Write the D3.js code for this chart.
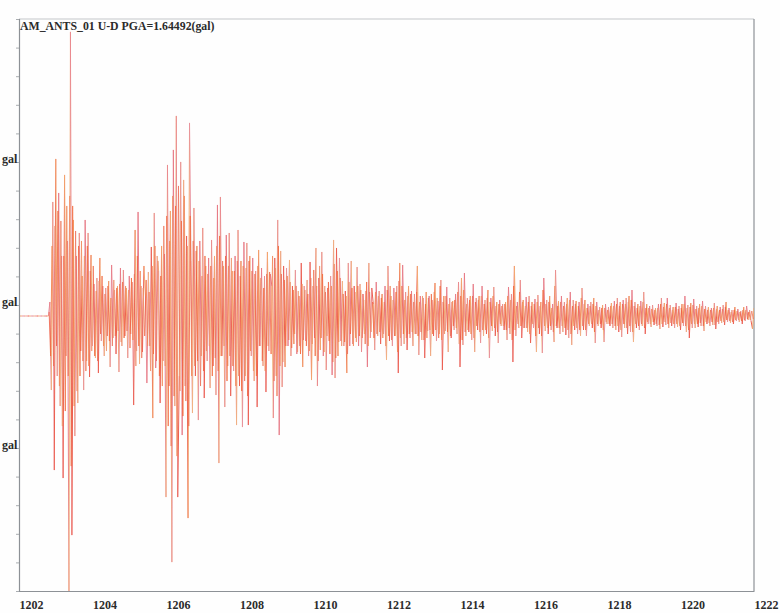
<!DOCTYPE html>
<html>
<head>
<meta charset="utf-8">
<script src="https://cdn.jsdelivr.net/npm/d3@7/dist/d3.min.js"></script>
<style>
html,body{margin:0;padding:0;background:#fefefe;}
svg{display:block;}
text{font-family:"Liberation Serif","Times New Roman",serif;font-weight:bold;fill:#2b2b2b;}
</style>
</head>
<body>
<svg id="chart" width="780" height="613"></svg>
<script>
const chartTitle = "AM_ANTS_01 U-D PGA=1.64492(gal)";
const xTickValues = [1202,1204,1206,1208,1210,1212,1214,1216,1218,1220,1222];
const yTickSteps = d3.range(-10, 11);
const yLabelSteps = [-5, 0, 5];
const yUnit = "gal";
const startTime = 1202;
const sampleStep = 0.04;
const coreStart = 1202.82;
const pga = 1.64492;
const pgaCounts = 275;
const baselineGal = -0.0658;
const yLimit = 1.71;

const quietCounts = [0,0,0,0,0,0,0,0,0,0,0,0,0,0,0,0,0,0,0,0];
const onsetCounts = [0,14,-74,114,-154,157,-60,123,-90,60,-162,141,-40,75,-275,284,-219,96,-120,60,-87,83,-35,40,-74];
const counts1204 = [96,-45,83,-61,61,-30,32,-42,38,-57,58,-25,30,-40,28,-20,35,-51,51,-22,26,-38,30,-56,48];
const counts1205 = [-30,46,-20,28,-42,40,-18,34,-89,86,-35,104,-48,30,-36,50,20,-67,44,-30,69,-102,103,-52,60];
const counts1206 = [45,-87,70,-45,62,-181,151,-70,105,-246,166,-90,200,-181,-60,154,-119,136,-70,80,-202,193,55,-97,108];
const counts1207 = [-60,70,-104,75,-40,88,-82,50,-45,58,-72,76,-50,60,-79,111,-147,119,-40,50,-91,81,-50,83,-80];
const counts1208 = [45,-55,60,-109,86,-70,55,-111,74,-60,73,-109,60,-40,58,-65,45,-91,66,-30,48,-50,40,-76,64];
const counts1209 = [-35,42,30,-102,58,-60,96,-119,65,-71,50,-51,48,-30,56,-40,30,-28,46,-38,25,-30,53,-51,30];
const counts1210 = [-25,36,-40,54,-64,30,-22,68,-70,38,-34,64,-40,30,-54,28,-25,40,-59,76,-62,68,-40,58,-25];
const counts1211 = [35,-30,25,-57,53,-30,55,-28,30,-22,49,-30,32,-36,22,-18,25,-51,53,-22,28,12,-34,34,-20];
const counts1212 = [25,-28,22,-18,30,-44,50,-25,20,-30,28,-20,30,-57,53,-30,51,-28,24,-34,30,-22,25,-30,22];
const counts1213 = [-18,50,-39,20,-24,18,-42,24,-15,20,-40,16,-20,33,-25,15,-18,36,-54,20,-15,29,-36,18,-22];
const counts1214 = [15,-14,22,-18,34,-51,38,-29,43,-20,18,-16,20,-24,32,-36,18,-14,20,-27,30,-20,16,-18,26];
const counts1215 = [-42,18,-15,29,-20,14,-27,16,-10,12,-14,14,-24,29,-18,22,-46,50,-20,14,-12,36,-22,16,-12];
const counts1216 = [19,-16,20,-27,14,-12,17,-36,21,-18,14,-37,38,-15,16,-18,20,-14,12,-26,46,-12,15,-18,20];
const counts1217 = [-16,14,-19,18,-22,24,-29,16,-14,15,-18,14,-20,28,-14,16,-20,12,-10,14,-12,18,-27,14,-10];
const counts1218 = [9,-12,11,-26,12,-8,9,-10,13,-12,15,-14,18,-16,14,-21,16,-12,18,-18,20,-16,26,-26,14];
const counts1219 = [-12,12,-14,15,-10,24,-18,12,-8,10,-11,11,-9,8,-10,12,-13,18,-11,13,-9,18,-12,11,-10];
const counts1220 = [9,-12,13,-11,10,-14,12,-10,20,-16,11,-22,13,-12,17,-12,10,-11,12,-10,15,-15,10,-8,9];
const counts1221 = [-10,8,-9,13,-13,10,-8,9,-7,11,-9,14,-6,8,-7,6,-8,9,-5,7,-6,5,-8,9,-5,10,-4,6,-5,-13,8];

const core1203 = [4,-40,70,-50,90,-30,105,-70,95,-110,60,-95,110,-60,120,-150,110,-90,85,-75,70,-60,75,-45,60];
const core1204 = [-55,70,-50,45,-35,50,-40,25,-45,35,-18,40,-30,22,-35,30,-25,18,-30,36,-20,28,-15,32,-26];
const core1205 = [34,-22,30,-15,26,-32,38,-24,42,-50,60,-30,45,-42,28,-20,36,-30,24,-55,50,-38,70,-45,55];
const core1206 = [-60,40,-70,90,-50,100,-110,75,-130,120,-80,110,-140,130,-75,95,-100,120,-85,70,-110,100,-60,75,-50];
const core1207 = [65,-45,55,-70,40,-55,60,-35,42,-30,50,-60,38,-42,70,-55,80,-40,55,-30,60,-65,50,-40,58];
const core1208 = [-50,45,-70,55,-60,40,-75,50,-65,48,-80,55,-35,45,-55,42,-60,50,-30,38,-45,28,-55,42,-30];
const core1209 = [44,-38,60,-65,48,-80,70,-50,42,-46,36,-30,40,-24,34,-32,26,-18,30,-36,20,-38,32,-24,26];
const core1210 = [-30,22,-35,38,-28,46,-40,30,-45,50,-22,42,-36,24,-20,34,-38,30,-46,52,-42,45,-26,38,-30];
const core1211 = [22,-26,20,-38,34,-18,28,-30,24,-26,30,-20,26,-22,16,-28,34,-30,24,-16,14,-22,24,-18,20];
const core1212 = [-16,18,-22,14,-30,26,-20,30,-24,16,-20,24,-36,35,-22,30,-18,16,-22,20,-18,22,-16,14,-18];
const core1213 = [24,-20,14,-16,20,-24,12,-22,18,-14,22,-18,24,-14,18,-22,30,-24,14,-18,20,-16,12,-20,14];
const core1214 = [-10,16,-12,24,-28,20,-24,26,-16,12,-14,16,-18,20,-22,14,-10,16,-16,20,-14,12,-14,18,-22];
const core1215 = [14,-10,20,-12,10,-16,12,-8,10,-10,12,-14,20,-12,16,-24,30,-14,10,-8,24,-10,14,-12,10];
const core1216 = [-12,14,-18,10,-8,12,-20,14,-12,10,-20,26,-10,12,-12,14,-10,8,-16,30,-10,10,-12,14,-10];
const core1217 = [10,-12,12,-14,16,-18,10,-10,12,-12,10,-14,18,-10,12,-14,8,-8,10,-8,12,-16,10,-8,6];
const core1218 = [-8,8,-14,8,-6,6,-8,10,-8,10,-10,12,-10,10,-14,12,-8,12,-12,14,-10,16,-16,10,-8];
const core1219 = [8,-10,10,-8,14,-12,8,-6,8,-8,7,-6,6,-8,8,-9,12,-8,9,-6,12,-8,8,-7,6];
const core1220 = [-8,9,-8,7,-10,8,-7,12,-10,8,-14,9,-8,11,-8,7,-8,8,-7,10,-10,7,-6,6,-7];
const core1221 = [6,-6,8,-9,7,-6,6,-5,7,-6,9,-4,6,-5,4,-6,6,-4,5,-4,4,-5,6,-4,6,-3,4,-4,5,-3];

const peakColors = ["#ec5f50","#f3a870","#e8939f","#e87b86","#f1b484","#ea8a90"];
const coreColors = ["#ef5a3c","#f3733f","#f19062","#ea6a5c","#f0a070"];

const margin = {left:19, right:26, top:19, bottom:22};
const width = 780, height = 613;

const counts = [].concat(quietCounts,onsetCounts,counts1204,counts1205,counts1206,counts1207,counts1208,counts1209,counts1210,counts1211,counts1212,counts1213,counts1214,counts1215,counts1216,counts1217,counts1218,counts1219,counts1220,counts1221);
const coreCounts = [].concat(core1203,core1204,core1205,core1206,core1207,core1208,core1209,core1210,core1211,core1212,core1213,core1214,core1215,core1216,core1217,core1218,core1219,core1220,core1221);
const toGal = c => baselineGal + c*pga/pgaCounts;
const samples = counts.map((c,i)=>({t:startTime+i*sampleStep, g:toGal(c)}));
const coreSamples = coreCounts.map((c,i)=>({t:coreStart+i*sampleStep, g:toGal(c)}));

const svg = d3.select("#chart");
const x = d3.scaleLinear().domain([1202,1222]).range([margin.left,width-margin.right]);
const y = d3.scaleLinear().domain([-yLimit,yLimit]).range([height-margin.bottom,margin.top]);

const defs = svg.append("defs");
defs.append("filter").attr("id","scan").attr("x","-5%").attr("y","-5%").attr("width","110%").attr("height","110%")
  .append("feGaussianBlur").attr("stdDeviation",0.4);
defs.append("clipPath").attr("id","plot").append("rect")
  .attr("x",margin.left).attr("y",margin.top).attr("width",width-margin.left-margin.right).attr("height",height-margin.top-margin.bottom);

// frame
svg.append("line").attr("x1",x(1202)).attr("x2",x(1222)).attr("y1",y(yLimit)).attr("y2",y(yLimit)).attr("stroke","#c4c7ca").attr("stroke-width",1);
svg.append("line").attr("x1",x(1222)).attr("x2",x(1222)).attr("y1",y(yLimit)).attr("y2",y(-yLimit)).attr("stroke","#8d9196").attr("stroke-width",1.2);

// trace
const line = d3.line().x(d=>x(d.t)).y(d=>y(d.g));
const trace = svg.append("g").attr("clip-path","url(#plot)").append("g").attr("filter","url(#scan)");
trace.append("g").selectAll("path").data(d3.pairs(samples)).join("path")
  .attr("d",d=>line(d)).attr("fill","none")
  .attr("stroke",(d,i)=>peakColors[i%peakColors.length]).attr("stroke-width",1);
trace.append("g").selectAll("path").data(d3.pairs(coreSamples)).join("path")
  .attr("d",d=>line(d)).attr("fill","none")
  .attr("stroke",(d,i)=>coreColors[i%coreColors.length]).attr("stroke-width",0.9).attr("stroke-opacity",0.85);

// axes
const xAxis = d3.axisBottom(x).tickValues(xTickValues).tickSize(0).tickFormat(d3.format("d"));
const gx = svg.append("g").attr("transform",`translate(0,${height-margin.bottom})`).call(xAxis);
gx.select(".domain").attr("stroke","#8d9196").attr("stroke-width",1);
gx.selectAll("text").attr("text-anchor","start").attr("font-size",12).attr("y",9).attr("dy","0.71em")
  .style("font-family",'"Liberation Serif",serif').style("font-weight","bold").attr("fill","#2b2b2b");

const yTickValues = yTickSteps.map(k=>k*yLimit/10);
const yLabels = new Map(yLabelSteps.map(k=>[k*yLimit/10,yUnit]));
const yAxis = d3.axisLeft(y).tickValues(yTickValues).tickSize(3).tickFormat(d=>yLabels.get(d)||"");
const gy = svg.append("g").attr("transform",`translate(${margin.left},0)`).call(yAxis);
gy.select(".domain").attr("stroke","#8d9196").attr("stroke-width",1.2);
gy.selectAll("line").attr("stroke","#a9adb1");
gy.selectAll("text").attr("text-anchor","start").attr("x",-17).attr("font-size",12).attr("dy","0em")
  .style("font-family",'"Liberation Serif",serif').style("font-weight","bold").attr("fill","#2b2b2b");

// title
svg.append("text").attr("x",20).attr("y",29.5).attr("font-size",11.8).text(chartTitle);
</script>
</body>
</html>
